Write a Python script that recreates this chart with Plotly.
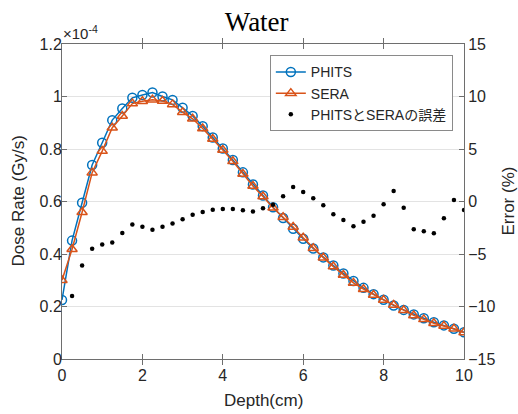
import plotly.graph_objects as go

depth = [i * 0.25 for i in range(41)]
phits = [0.225, 0.451, 0.595, 0.739, 0.824, 0.910, 0.954, 0.995, 1.006, 1.015,
         1.000, 0.987, 0.957, 0.926, 0.887, 0.844, 0.802, 0.758, 0.711, 0.665,
         0.623, 0.578, 0.537, 0.496, 0.458, 0.421, 0.387, 0.356, 0.326, 0.297,
         0.271, 0.247, 0.226, 0.204, 0.187, 0.170, 0.155, 0.140, 0.128, 0.115, 0.102]
sera = [0.300, 0.418, 0.559, 0.710, 0.792, 0.881, 0.926, 0.973, 0.982, 0.988,
        0.983, 0.970, 0.940, 0.915, 0.878, 0.838, 0.796, 0.753, 0.705, 0.659,
        0.619, 0.576, 0.540, 0.503, 0.462, 0.422, 0.386, 0.352, 0.320, 0.290,
        0.266, 0.244, 0.225, 0.206, 0.186, 0.166, 0.151, 0.136, 0.126, 0.115, 0.101]
err_depth = depth[1:]
err = [-9.0, -6.1, -4.5, -4.1, -3.9, -3.0, -2.2, -2.4, -2.7, -2.4,
       -2.1, -1.7, -1.25, -1.0, -0.78, -0.71, -0.71, -0.84, -0.95,
       -0.65, -0.3, 0.49, 1.38, 0.9, 0.3, -0.36, -1.22, -1.76, -2.36, -1.92,
       -1.35, -0.27, 1.0, -0.59, -2.64, -2.83, -3.02, -1.6, 0.14, -0.8]

FONT = "Liberation Sans, Arial, Noto Sans CJK JP, sans-serif"
AX = "#6e6e6e"
GRID = "#e3e3e3"
TXT = "#262626"

fig = go.Figure()
fig.add_trace(go.Scatter(x=depth, y=phits, name="PHITS", mode="lines+markers",
                         line=dict(color="#0072BD", width=1.5),
                         marker=dict(symbol="circle-open", size=9, color="#0072BD",
                                     line=dict(width=1.5))))
fig.add_trace(go.Scatter(x=depth, y=sera, name="SERA", mode="lines+markers",
                         line=dict(color="#D95319", width=1.5),
                         marker=dict(symbol="triangle-up-open", size=9, color="#D95319",
                                     line=dict(width=1.5))))
fig.add_trace(go.Scatter(x=err_depth, y=err, name="PHITSとSERAの誤差", mode="markers",
                         yaxis="y2", marker=dict(color="black", size=4.5)))

fig.update_layout(
    width=518, height=414,
    margin=dict(l=62, r=54, t=44, b=55, autoexpand=False),
    paper_bgcolor="white", plot_bgcolor="white",
    font=dict(family=FONT, size=16, color=TXT),
    title=dict(text="Water", x=0.4956, xanchor="center", y=0.949, yanchor="middle",
               font=dict(family="Liberation Serif, Times New Roman, serif", size=27, color="black")),
    xaxis=dict(range=[0, 10], dtick=2, tick0=0, showgrid=False, zeroline=False,
               showline=True, linecolor=AX, linewidth=1, mirror="allticks",
               ticks="inside", ticklen=5, tickcolor=AX, automargin=False,
               ticklabelstandoff=2),
    yaxis=dict(range=[0, 1.2], dtick=0.2, tick0=0, showgrid=True, gridcolor=GRID,
               zeroline=False, showline=True, linecolor=AX, linewidth=1,
               ticks="inside", ticklen=5, tickcolor=AX, tickformat="~g", automargin=False,
               ticklabelstandoff=-4),
    yaxis2=dict(range=[-15, 15], dtick=5, tick0=-15, overlaying="y", side="right",
                showgrid=False, zeroline=False, showline=True, linecolor=AX, linewidth=1,
                ticks="inside", ticklen=5, tickcolor=AX, automargin=False),
    legend=dict(x=0.517, y=0.964, xanchor="left", yanchor="top",
                bgcolor="white", bordercolor="#8a8a8a", borderwidth=1,
                font=dict(size=14, color=TXT), tracegroupgap=0),
    showlegend=True,
)
fig.add_annotation(text="×10<sup>-4</sup>", xref="paper", yref="paper", x=0, y=1.0,
                   xanchor="left", yanchor="bottom", showarrow=False,
                   font=dict(size=15, color=TXT), xshift=-1, yshift=0)
fig.add_annotation(text="Depth(cm)", xref="paper", yref="paper", x=0.5, y=0,
                   xanchor="center", yanchor="middle", yshift=-41, showarrow=False,
                   font=dict(size=17, color=TXT))
fig.add_annotation(text="Dose Rate (Gy/s)", xref="paper", yref="paper", x=0, y=0.5,
                   xanchor="center", yanchor="middle", xshift=-44, textangle=-90,
                   showarrow=False, font=dict(size=17, color=TXT))
fig.add_annotation(text="Error (%)", xref="paper", yref="paper", x=1, y=0.5,
                   xanchor="center", yanchor="middle", xshift=44, textangle=-90,
                   showarrow=False, font=dict(size=17, color=TXT))

fig.write_html("out.html", config={"displayModeBar": False},
               post_script="document.body.style.margin='0';document.body.style.overflow='hidden';")
